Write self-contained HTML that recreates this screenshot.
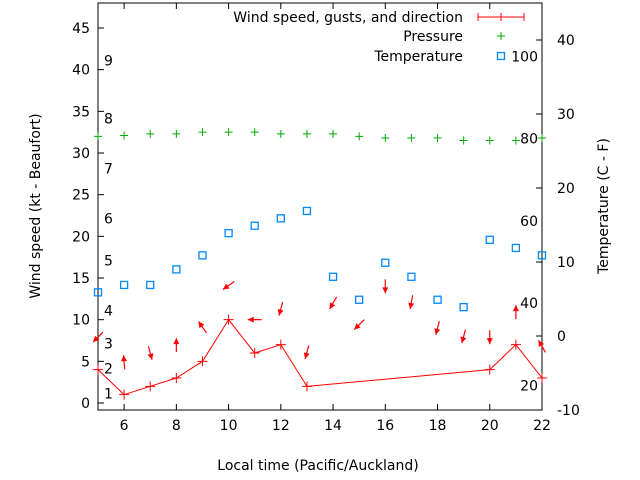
<!DOCTYPE html>
<html><head><meta charset="utf-8"><style>body{margin:0;background:#fff}svg{display:block;font-family:"DejaVu Sans","Liberation Sans",sans-serif}</style></head>
<body>
<svg id="chart" width="640" height="480" viewBox="0 0 640 480" xmlns="http://www.w3.org/2000/svg"></svg>
<script>
const hours=[5,6,7,8,9,10,11,12,13,14,15,16,17,18,19,20,21,22];
const windHours=[5,6,7,8,9,10,11,12,13,20,21,22];
const windSpeed=[4,1,2,3,5,10,6,7,2,4,7,3];
const pressure=[32.0,32.1,32.3,32.3,32.5,32.5,32.5,32.3,32.3,32.3,32.0,31.8,31.8,31.8,31.5,31.5,31.5,31.8];
const temperature=[5.9,6.9,6.9,9.0,10.9,13.9,14.9,15.9,16.9,8.0,4.9,9.9,8.0,4.9,3.9,13.0,11.9,10.9];
const arrowLevel=[7.9,4.9,6.0,6.95,9.1,14.1,10.0,11.3,6.1,12.0,9.4,14.0,12.1,9.0,8.0,7.9,10.9,6.8];
const arrowAngle=[225,95,-75,90,125,215,180,255,255,240,225,270,260,255,255,270,90,120];
const xTicks=[6,8,10,12,14,16,18,20,22];
const yTicks=[0,5,10,15,20,25,30,35,40,45];
const y2Ticks=[-10,0,10,20,30,40];
const beaufortKt=[1,4,7,11,17,22,28,34,41];
const fTicks=[20,40,60,80,100];

const L=98,R=542,T=3,B=410;
const X=v=>L+(v-5)*(R-L)/17;
const Y=v=>403-v*8.333;
const Y2=v=>336-v*7.4;
const svg=document.getElementById('chart');
const NS='http://www.w3.org/2000/svg';
function mk(tag,attrs,parent){const e=document.createElementNS(NS,tag);for(const k in attrs)e.setAttribute(k,attrs[k]);(parent||svg).appendChild(e);return e;}
function txt(s,x,y,anchor,parent){const t=mk('text',{x:x,y:y,'font-size':14,'text-anchor':anchor||'start',fill:'#000'},parent);t.textContent=s;return t;}

const axes=mk('g',{});


mk('rect',{x:L,y:T,width:R-L,height:B-T,fill:'none',stroke:'#000','stroke-width':1},axes);
xTicks.forEach(v=>{mk('line',{x1:X(v),x2:X(v),y1:B,y2:B-6,stroke:'#000'},axes);mk('line',{x1:X(v),x2:X(v),y1:T,y2:T+6,stroke:'#000'},axes);
 const t=txt(String(v),X(v),B+20,'middle',axes);});
yTicks.forEach(v=>{mk('line',{x1:L,x2:L+6,y1:Y(v),y2:Y(v),stroke:'#000'},axes);
 const t=txt(String(v),L-8,Y(v)+5,'end',axes);});
y2Ticks.forEach(v=>{mk('line',{x1:R,x2:R-6,y1:Y2(v),y2:Y2(v),stroke:'#000'},axes);
 const t=txt(String(v),R+15,Y2(v)+5,'start',axes);});
beaufortKt.forEach((v,i)=>{const t=txt(String(i+1),104,Y(v)+4,'start',axes);});
fTicks.forEach(v=>{const t=txt(String(v),538,Y2((v-32)*5/9)+5,'end',axes);});
const xt=txt('Local time (Pacific/Auckland)',318,470,'middle');

const yt=txt('Wind speed (kt - Beaufort)',0,0,'middle');yt.setAttribute('transform','translate(40,206) rotate(-90)');

const y2t=txt('Temperature (C - F)',0,0,'middle');y2t.setAttribute('transform','translate(608,206) rotate(-90)');


let d='';windHours.forEach((h,i)=>{d+=(i?'L':'M')+X(h)+' '+Y(windSpeed[i]);});
const wl=mk('path',{d:d,fill:'none',stroke:'#f00','stroke-width':1});

windHours.forEach((h,i)=>{const g=mk('path',{d:`M${X(h)-5} ${Y(windSpeed[i])}h10M${X(h)} ${Y(windSpeed[i])-5}v10`,stroke:'#f00','stroke-width':1});
 });
hours.forEach((h,i)=>{const cx=X(h),cy=Y(arrowLevel[i]),a=arrowAngle[i]*Math.PI/180,dx=Math.cos(a)*7,dy=-Math.sin(a)*7;
 const g=mk('g',{});
 mk('line',{x1:cx-dx,y1:cy-dy,x2:cx+dx,y2:cy+dy,stroke:'#f00','stroke-width':1.2},g);
 const hx=cx+dx,hy=cy+dy,ux=dx/7,uy=dy/7,px=-uy,py=ux;
 mk('polygon',{points:`${hx},${hy} ${hx-ux*6+px*3},${hy-uy*6+py*3} ${hx-ux*6-px*3},${hy-uy*6-py*3}`,fill:'#f00'},g);});
hours.forEach((h,i)=>{const p=mk('path',{d:`M${X(h)-4} ${Y(pressure[i])}h8M${X(h)} ${Y(pressure[i])-4}v8`,stroke:'#0a0','stroke-width':1});
 });
hours.forEach((h,i)=>{const r=mk('rect',{x:X(h)-3.5,y:Y2(temperature[i])-3.5,width:7,height:7,fill:'none',stroke:'#08f','stroke-width':1.3});
 });
const lg=mk('g',{});
txt('Wind speed, gusts, and direction',463,22,'end',lg);
mk('path',{d:'M478 17H524M478 13v8M524 13v8M501 13v8',stroke:'#f00','stroke-width':1},lg);
txt('Pressure',463,41,'end',lg);
mk('path',{d:'M497 36h8M501 32v8',stroke:'#0a0'},lg);
txt('Temperature',463,61,'end',lg);
mk('rect',{x:497.5,y:52.5,width:7,height:7,fill:'none',stroke:'#08f','stroke-width':1.3},lg);
</script>
</body></html>
